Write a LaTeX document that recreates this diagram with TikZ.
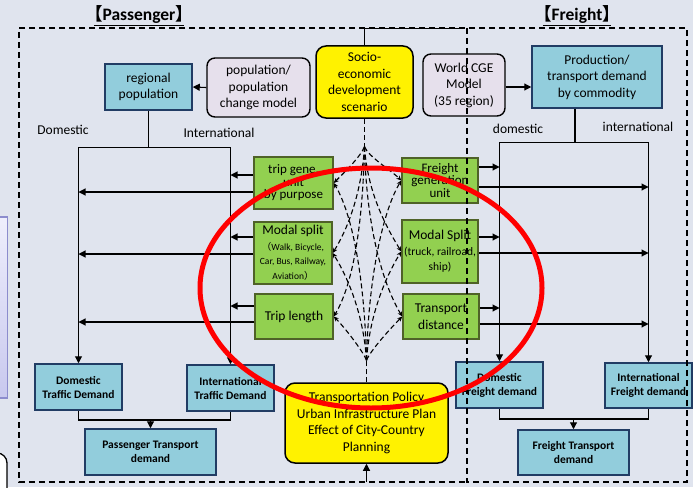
\documentclass[tikz,border=0pt]{standalone}
\usepackage{fontspec}
\setmainfont{Carlito}
\newfontfamily\cjkfont[RawFeature=+halt]{Noto Sans CJK JP}
\newfontfamily\cjkwide{Noto Sans CJK JP}
\usetikzlibrary{arrows.meta,calc}

\definecolor{bgcol}{RGB}{224,228,238}
\definecolor{boxblue}{RGB}{146,205,220}
\definecolor{boxnavy}{RGB}{33,60,100}
\definecolor{boxgreen}{RGB}{146,208,80}
\definecolor{boxolive}{RGB}{79,98,40}
\definecolor{boxlav}{RGB}{230,224,236}
\definecolor{lavborder}{RGB}{140,140,205}
\definecolor{lavtop}{RGB}{238,238,252}
\definecolor{lavbot}{RGB}{200,200,238}

\begin{document}
\begin{tikzpicture}[x=1pt,y=1pt,
  every node/.style={inner sep=0pt, align=center, text=black},
  txt/.style={font=\fontsize{13.5}{16.5}\selectfont},
  bluebox/.style={txt, draw=boxnavy, line width=1.5pt, fill=boxblue},
  demand/.style={bluebox, font=\bfseries\fontsize{11.5}{14}\selectfont},
  greenbox/.style={txt, draw=boxolive, line width=1.5pt, fill=boxgreen},
  yellowbox/.style={txt, draw=black, line width=1.5pt, fill=yellow, rounded corners=10pt},
  lavbox/.style={txt, draw=black, line width=1.4pt, fill=boxlav, rounded corners=8pt},
  conn/.style={line width=1.1pt},
  arr/.style={conn, -{Triangle[length=7pt,width=7pt]}},
  stem/.style={line width=1.3pt, dash pattern=on 5pt off 3pt},
  infl/.style={line width=1.1pt, dash pattern=on 5pt off 3pt, -{Stealth[length=5pt,width=4.5pt]}},
  frame/.style={line width=1.1pt, dash pattern=on 6pt off 4pt},
  title/.style={font=\bfseries\fontsize{17.5}{19}\selectfont}
]
% canvas
\fill[bgcol] (0,0) rectangle (693,-487);
\useasboundingbox (0,0) rectangle (693,-487);
\clip (0,0) rectangle (693,-487);

% pieces of neighbouring shapes at the left edge
\draw[draw=lavborder, line width=1.5pt, top color=lavtop, bottom color=lavbot] (-20,-217) rectangle (7.5,-398);
\draw[black, line width=1.3pt, fill=white, rounded corners=10pt] (-30,-453) rectangle (7,-530);

% section titles
\node[title] (ptitle) at (139,-16) {\underline{{\cjkfont 【}Passenger{\cjkfont 】}}};
\node[title] (ftitle) at (577,-16) {\underline{{\cjkfont 【}Freight{\cjkfont 】}}};

% top row
\node[bluebox, minimum width=87, minimum height=46] (regpop) at (148.5,-87) {regional\\population};
\node[lavbox, minimum width=103, minimum height=59] (popmodel) at (258.5,-87.5) {population/\\population\\change model};
\node[yellowbox, minimum width=97, minimum height=72] (socio) at (364.5,-82) {Socio-\\economic\\development\\scenario};
\node[lavbox, minimum width=82, minimum height=62] (cge) at (464,-85) {World CGE\\Model\\(35 region)};
\node[bluebox, minimum width=130, minimum height=62] (prod) at (597,-77) {Production/\\transport demand\\by commodity};

% branch labels
\node[txt] (domlbl) at (63,-130) {Domestic};
\node[txt] (intlbl) at (219,-133) {International};
\node[txt] (fdomlbl) at (518,-129) {domestic};
\node[txt] (fintlbl) at (638,-127) {international};

% passenger sub-models
\node[greenbox, minimum width=79, minimum height=52, font=\fontsize{13}{12.5}\selectfont] (tripgen) at (293.5,-183) {trip gene.\\unit\\by purpose};
\node[greenbox, minimum width=78, minimum height=62] (modalp) at (293,-253)
  {{\fontsize{13.5}{14}\selectfont Modal split}\\[-1pt]
   {\fontsize{9.5}{11.7}\selectfont{\cjkwide （}Walk, Bicycle,}\\[-2pt]
   {\fontsize{9.5}{11.7}\selectfont Car, Bus, Railway,}\\[-2pt]
   {\fontsize{9.5}{11.7}\selectfont Aviation{\cjkwide ）}}};
\node[greenbox, minimum width=78, minimum height=45] (triplen) at (294,-316.5) {Trip length};

% freight sub-models
\node[greenbox, minimum width=76, minimum height=45, font=\fontsize{13}{12.5}\selectfont] (fgen) at (440,-180.5) {Freight\\generation\\unit};
\node[greenbox, minimum width=76, minimum height=63] (modalf) at (440,-251.5)
  {{\fontsize{13.5}{15}\selectfont Modal Split}\\[-1pt]
   {\fontsize{11.5}{13.5}\selectfont (truck, railroad,}\\[-1pt]
   {\fontsize{11.5}{13.5}\selectfont ship)}};
\node[greenbox, minimum width=76, minimum height=45] (tdist) at (441,-316.5) {Transport\\distance};

% demand boxes
\node[demand, minimum width=87, minimum height=46] (domtd) at (78.5,-387) {Domestic\\Traffic Demand};
\node[demand, minimum width=87, minimum height=46] (inttd) at (230.5,-388) {International\\Traffic Demand};
\node[demand, minimum width=131, minimum height=46] (ptd) at (150.5,-452) {Passenger Transport\\demand};
\node[demand, minimum width=87, minimum height=46] (domfd) at (499.5,-385) {Domestic\\Freight demand};
\node[demand, minimum width=87, minimum height=45] (intfd) at (648.5,-385.5) {International\\Freight demand};
\node[demand, minimum width=111, minimum height=45] (ftd) at (573.5,-452.5) {Freight Transport\\demand};

% policy box
\node[yellowbox, minimum width=163, minimum height=80] (policy) at (366.5,-423)
  {Transportation Policy\\Urban Infrastructure Plan\\Effect of City-Country\\Planning};

% top arrows
\draw[arr] (popmodel.west) -- (regpop.east);
\draw[arr] ([yshift=-2]cge.east) -- ([yshift=-2]cge.east -| prod.west);

% passenger tree
\coordinate (pj) at ($(regpop.south)+(0,-37)$);
\draw[conn] (regpop.south) -- (pj);
\draw[arr] (pj) -| (domtd.north);
\draw[arr] (pj) -| (inttd.north);
\draw[arr] ([yshift=8]tripgen.west) -- ([yshift=8]tripgen.west -| inttd.north);
\draw[arr] ([yshift=-9]tripgen.west) -- ([yshift=-9]tripgen.west -| domtd.north);
\draw[arr] ([yshift=16]modalp.west) -- ([yshift=16]modalp.west -| inttd.north);
\draw[arr] ([yshift=-1]modalp.west) -- ([yshift=-1]modalp.west -| domtd.north);
\draw[arr] ([yshift=10.5]triplen.west) -- ([yshift=10.5]triplen.west -| inttd.north);
\draw[arr] ([yshift=-5.5]triplen.west) -- ([yshift=-5.5]triplen.west -| domtd.north);
\coordinate (pb) at (ptd.north |- 0,-420);
\draw[conn] (domtd.south) |- (pb) -| (inttd.south);
\draw[arr] (pb) -- (ptd.north);

% freight tree
\coordinate (ftop) at ($(prod.south)+(-22,0)$);
\coordinate (fj) at ($(ftop)+(0,-34)$);
\draw[conn] (ftop) -- (fj);
\draw[arr] (fj) -| (domfd.north);
\draw[arr] (fj) -| (intfd.north);
\draw[arr] ([yshift=13.5]fgen.east) -- ([yshift=13.5]fgen.east -| domfd.north);
\draw[arr] ([yshift=-6.5]fgen.east) -- ([yshift=-6.5]fgen.east -| intfd.north);
\draw[arr] ([yshift=14.5]modalf.east) -- ([yshift=14.5]modalf.east -| domfd.north);
\draw[arr] ([yshift=-1.5]modalf.east) -- ([yshift=-1.5]modalf.east -| intfd.north);
\draw[arr] ([yshift=8.5]tdist.east) -- ([yshift=8.5]tdist.east -| domfd.north);
\draw[arr] ([yshift=-7.5]tdist.east) -- ([yshift=-7.5]tdist.east -| intfd.north);
\coordinate (fb) at (ftd.north |- 0,-419);
\draw[conn] (domfd.south) |- (fb) -| (intfd.south);
\draw[arr] (fb) -- (ftd.north);

% scenario influences: a common stem, then a fan to every sub-model
\coordinate (fantop) at ($(socio.south)+(0,-28)$);
\draw[stem] (socio.south) -- (fantop);
\draw[infl] (fantop) .. controls +(-4,-10) and +(10,10) .. (tripgen.east);
\draw[infl] (fantop) .. controls +(-3,-45) and +(16,26) .. (modalp.east);
\draw[infl] (fantop) .. controls +(-2,-85) and +(18,30) .. (triplen.east);
\draw[infl] (fantop) .. controls +(4,-10) and +(-10,10) .. (fgen.west);
\draw[infl] (fantop) .. controls +(3,-45) and +(-16,26) .. (modalf.west);
\draw[infl] (fantop) .. controls +(2,-85) and +(-18,30) .. (tdist.west);
% policy influences, fanning out from below
\coordinate (fanbot) at ($(policy.north)+(0,22)$);
\draw[stem] (policy.north) -- (fanbot);
\draw[infl] (fanbot) .. controls +(-4,10) and +(10,-10) .. (triplen.east);
\draw[infl] (fanbot) .. controls +(-3,45) and +(16,-26) .. (modalp.east);
\draw[infl] (fanbot) .. controls +(-2,85) and +(18,-30) .. (tripgen.east);
\draw[infl] (fanbot) .. controls +(4,10) and +(-10,-10) .. (tdist.west);
\draw[infl] (fanbot) .. controls +(3,45) and +(-16,-26) .. (modalf.west);
\draw[infl] (fanbot) .. controls +(2,85) and +(-18,-30) .. (fgen.west);

% dashed frames and the scenario feedback loop
\draw[frame] (465,-28) -- (19,-28) -- (19,-482) -- (467,-482);
\draw[frame] (467,-28) rectangle (687,-482);
\coordinate (loopcorner) at (465,-28.5);
\draw[conn] (socio.north) |- (loopcorner);
\coordinate (loopin) at (policy.south |- 0,-482);
\draw[arr] (loopin) -- (policy.south);

% highlight ellipse
\draw[red, line width=5pt] (371,-288) ellipse [x radius=171, y radius=120];
\end{tikzpicture}
\end{document}
